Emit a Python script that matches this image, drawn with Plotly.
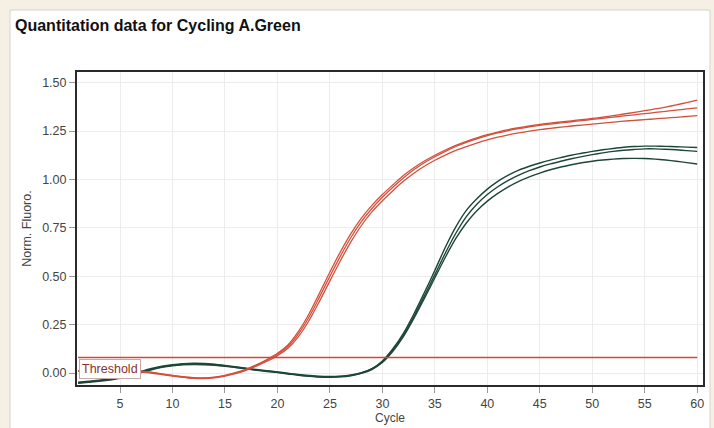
import plotly.graph_objects as go

cycles = list(range(1, 61))

dark_1 = [-0.050,-0.045,-0.040,-0.033,-0.025,-0.012,0.005,0.020,0.032,0.040,
          0.045,0.047,0.046,0.043,0.037,0.030,0.023,0.016,0.010,0.004,
          -0.003,-0.010,-0.015,-0.019,-0.020,-0.018,-0.012,0.000,0.022,0.062,
          0.125,0.205,0.305,0.415,0.530,0.650,0.755,0.840,0.900,0.950,
          0.990,1.022,1.048,1.068,1.085,1.100,1.113,1.125,1.135,1.145,
          1.153,1.160,1.166,1.170,1.172,1.172,1.171,1.169,1.167,1.165]
dark_2 = [-0.047,-0.042,-0.037,-0.030,-0.021,-0.008,0.008,0.023,0.035,0.043,
          0.048,0.050,0.049,0.045,0.039,0.032,0.025,0.018,0.012,0.006,
          -0.001,-0.008,-0.013,-0.017,-0.018,-0.016,-0.010,0.002,0.022,0.058,
          0.118,0.195,0.292,0.398,0.508,0.620,0.722,0.808,0.872,0.922,
          0.962,0.995,1.022,1.045,1.064,1.080,1.094,1.107,1.118,1.128,
          1.137,1.145,1.151,1.155,1.158,1.158,1.156,1.153,1.149,1.145]
dark_3 = [-0.053,-0.048,-0.043,-0.036,-0.028,-0.015,0.002,0.017,0.029,0.037,
          0.042,0.044,0.043,0.040,0.035,0.028,0.021,0.014,0.008,0.002,
          -0.005,-0.012,-0.017,-0.021,-0.022,-0.020,-0.014,-0.002,0.018,0.054,
          0.112,0.188,0.282,0.385,0.492,0.598,0.695,0.775,0.838,0.888,
          0.928,0.962,0.990,1.013,1.033,1.050,1.064,1.076,1.086,1.094,
          1.100,1.105,1.108,1.109,1.108,1.105,1.100,1.094,1.087,1.080]

red_1 = [0.010,0.012,0.013,0.013,0.012,0.010,0.007,0.002,-0.006,-0.014,
         -0.021,-0.026,-0.027,-0.023,-0.014,0.000,0.018,0.042,0.070,0.102,
         0.145,0.215,0.305,0.412,0.522,0.626,0.720,0.800,0.866,0.922,
         0.972,1.020,1.060,1.095,1.125,1.152,1.176,1.197,1.215,1.231,
         1.245,1.257,1.267,1.276,1.284,1.291,1.297,1.303,1.309,1.315,
         1.322,1.330,1.338,1.346,1.355,1.364,1.374,1.385,1.397,1.410]
red_2 = [0.012,0.014,0.015,0.015,0.014,0.012,0.009,0.004,-0.004,-0.012,
         -0.019,-0.024,-0.025,-0.021,-0.012,0.002,0.019,0.041,0.067,0.097,
         0.137,0.202,0.288,0.392,0.500,0.604,0.700,0.782,0.850,0.908,
         0.960,1.008,1.050,1.086,1.117,1.145,1.170,1.191,1.210,1.226,
         1.240,1.252,1.262,1.271,1.279,1.286,1.292,1.298,1.304,1.310,
         1.316,1.322,1.328,1.334,1.340,1.346,1.352,1.358,1.364,1.370]
red_3 = [0.008,0.010,0.011,0.011,0.010,0.008,0.005,0.000,-0.008,-0.016,
         -0.023,-0.028,-0.029,-0.025,-0.016,-0.003,0.014,0.036,0.061,0.090,
         0.128,0.188,0.270,0.370,0.476,0.580,0.677,0.762,0.832,0.890,
         0.942,0.990,1.032,1.068,1.099,1.126,1.150,1.170,1.188,1.204,
         1.218,1.230,1.240,1.249,1.257,1.264,1.270,1.276,1.281,1.286,
         1.291,1.296,1.301,1.305,1.309,1.313,1.317,1.321,1.325,1.330]

threshold = 0.08
x_ticks = [5, 10, 15, 20, 25, 30, 35, 40, 45, 50, 55, 60]
y_ticks = [0.00, 0.25, 0.50, 0.75, 1.00, 1.25, 1.50]

DARK = "#1e4638"
RED = "#d2503c"
FONT = "Liberation Sans, Arial"

fig = go.Figure()

for ys in (dark_1, dark_2, dark_3):
    fig.add_trace(go.Scatter(x=cycles, y=ys, mode="lines",
                             line=dict(color=DARK, width=1.4, shape="spline", smoothing=0.8),
                             showlegend=False))
for ys in (red_1, red_2, red_3):
    fig.add_trace(go.Scatter(x=cycles, y=ys, mode="lines",
                             line=dict(color=RED, width=1.3, shape="spline", smoothing=0.8),
                             showlegend=False))

fig.add_trace(go.Scatter(x=[cycles[0], cycles[-1]], y=[threshold, threshold],
                         mode="lines", line=dict(color="#d9443a", width=1.5),
                         hoverinfo="skip", showlegend=False))

# White panel over beige page
fig.add_shape(type="rect", xref="paper", yref="paper",
              x0=-0.107, x1=1.0112, y0=-0.2, y1=1.198,
              fillcolor="white", line=dict(color="#d8d4cc", width=1), layer="below")

fig.add_annotation(x=cycles[0], y=threshold, xref="x", yref="y",
                   text="Threshold", showarrow=False, xanchor="left", yanchor="top",
                   font=dict(family=FONT, size=12.5, color="#8a3030"),
                   bgcolor="white", bordercolor="#c8a8a8", borderwidth=1, borderpad=2,
                   xshift=1, yshift=-1)

fig.add_annotation(x=-0.102, y=1.147, xref="paper", yref="paper",
                   text="<b>Quantitation data for Cycling A.Green</b>", showarrow=False,
                   xanchor="left", yanchor="middle",
                   font=dict(family=FONT, size=16, color="#111111"))

axis_common = dict(showgrid=True, gridcolor="#ececec", gridwidth=1,
                   showline=True, linecolor="#2a2a2a", linewidth=2, mirror=True,
                   ticks="outside", ticklen=6, tickcolor="#999999",
                   tickfont=dict(family=FONT, size=12.5, color="#444444"),
                   zeroline=False, automargin=False)

fig.update_xaxes(range=[0.9, 60.55], tickvals=x_ticks,
                 title=dict(text="Cycle", standoff=3,
                            font=dict(family=FONT, size=12, color="#444444")),
                 **axis_common)
fig.update_yaxes(range=[-0.062, 1.555], tickvals=y_ticks, tickformat=".2f",
                 title=dict(text="Norm. Fluoro.", standoff=8,
                            font=dict(family=FONT, size=12.5, color="#444444")),
                 **axis_common)

fig.update_layout(width=714, height=428,
                  margin=dict(l=77, r=11, t=72, b=43, autoexpand=False),
                  paper_bgcolor="#f4f0e4", plot_bgcolor="white",
                  showlegend=False)

fig.write_html("out.html", config={"displayModeBar": False},
               post_script="document.body.style.margin='0px';document.body.style.overflow='hidden';")
